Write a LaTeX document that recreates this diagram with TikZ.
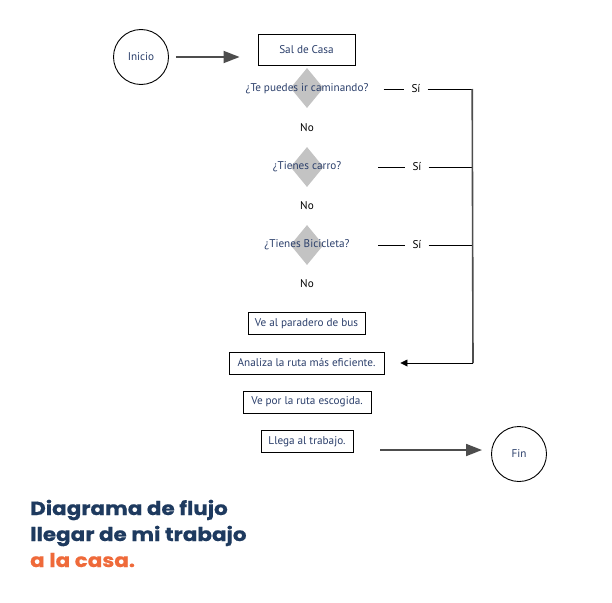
\documentclass[tikz,border=0pt]{standalone}
\usepackage{fontspec}
\setmainfont{PT Sans}
\newfontfamily\titlefont[FakeStretch=1.13, BoldFeatures={FakeBold=0.6}]{Poppins}
\usetikzlibrary{arrows.meta,shapes.geometric,calc}
\definecolor{navy}{HTML}{2B3F6B}
\definecolor{titlenavy}{HTML}{1E3A5F}
\definecolor{titleorange}{HTML}{EF6A3A}
\definecolor{dgray}{HTML}{4D4D4D}
\definecolor{lgray}{HTML}{C3C3C3}
\tikzset{
  txt/.style={font=\fontsize{11.2}{13}\selectfont, text=navy, inner sep=1pt},
  lbl/.style={font=\fontsize{11.2}{13}\selectfont, text=black, inner sep=1pt},
  stepbox/.style={draw=black, line width=0.9pt, txt, inner sep=0pt, minimum height=22pt},
  endpt/.style={circle, draw=black, line width=0.9pt, minimum size=55pt, inner sep=0pt, txt},
  decis/.style={diamond, fill=lgray, draw=none, minimum width=33pt, minimum height=40pt, inner sep=0pt, aspect=0.82},
  bigarrow/.style={draw=dgray, line width=1.8pt, -{Triangle[length=16pt,width=12pt]}},
  thin/.style={draw=black, line width=0.8pt},
  trunk/.style={draw=dgray, line width=1.6pt},
  title/.style={font=\titlefont\bfseries\fontsize{19}{26}\selectfont, anchor=base west, inner sep=0pt}
}
\begin{document}
\begin{tikzpicture}[x=1pt,y=-1pt]
\useasboundingbox (0,0) rectangle (612,602);
\fill[white] (0,0) rectangle (612,602);
% start / end
\node[endpt] (ini) at (141,57) {Inicio};
\node[endpt] (fin) at (519,454) {Fin};
% first box
\node[stepbox, minimum width=97pt, minimum height=31pt] (sal) at (306.5,49.5) {Sal de Casa};
% decisions
\node[decis] (d1) at (307,88) {};
\node[decis] (d2) at (307,167) {};
\node[decis] (d3) at (307,245) {};
\node[txt] (q1) at (307,89) {¿Te puedes ir caminando?};
\node[txt] (q2) at (307,167) {¿Tienes carro?};
\node[txt] (q3) at (307,245) {¿Tienes Bicicleta?};
\node[lbl] (n1) at (307,128) {No};
\node[lbl] (n2) at (307,206) {No};
\node[lbl] (n3) at (307,284) {No};
\node[lbl] (s1) at (416,89) {Sí};
\node[lbl] (s2) at (417,167) {Sí};
\node[lbl] (s3) at (417,245) {Sí};
% steps
\node[stepbox, minimum width=117pt] (bus) at (306.5,323.5) {Ve al paradero de bus};
\node[stepbox, minimum width=155pt] (ana) at (306.5,363) {Analiza la ruta más eficiente.};
\node[stepbox, minimum width=128pt] (ruta) at (307,402) {Ve por la ruta escogida.};
\node[stepbox, minimum width=92pt] (lle) at (307,441.5) {Llega al trabajo.};
% coordinates
\coordinate (t1) at (473,89);
\coordinate (t2) at (473,167);
\coordinate (t3) at (473,245);
\coordinate (t4) at (473,363);
\coordinate (a1e) at (sal.west |- ini.east);
\coordinate (a2s) at (380,450);
\coordinate (a2e) at (482,450);
% connectors
\draw[bigarrow, shorten <=7pt, shorten >=18pt] (ini.east) -- (a1e);
\draw[thin, shorten <=14pt, shorten >=6pt] (q1.east) -- (s1.west);
\draw[thin, shorten >=6pt] (378,167) -- (s2.west);
\draw[thin, shorten >=6pt] (378,245) -- (s3.west);
\draw[thin, shorten <=6pt] (s1.east) -- (t1);
\draw[thin, shorten <=6pt] (s2.east) -- (t2);
\draw[thin, shorten <=6pt] (s3.east) -- (t3);
\draw[trunk] (472.2,89) -- (t4);
\draw[thin, shorten >=16pt, -{Triangle[length=7pt,width=7pt]}] (t4) -- (ana.east);
\draw[bigarrow] (a2s) -- (a2e);
% title
\node[title, text=titlenavy] (ti1) at (30,515) {Diagrama de flujo};
\node[title, text=titlenavy] (ti2) at (30,541) {llegar de mi trabajo};
\node[title, text=titleorange] (ti3) at (30,567) {a la casa.};
\end{tikzpicture}
\end{document}
